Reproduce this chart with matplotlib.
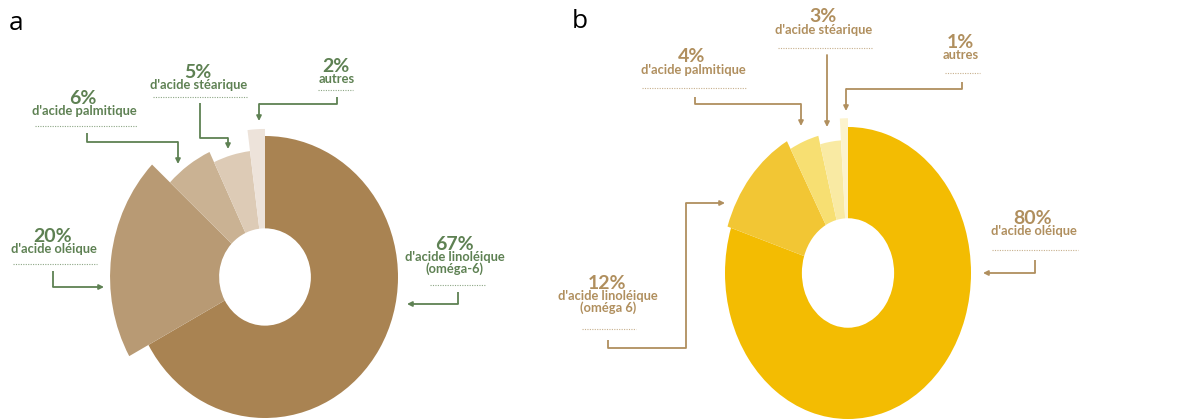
import numpy as np
import matplotlib
matplotlib.use("Agg")
import matplotlib.pyplot as plt

##########  DATA  ##########
names_a = ["d'acide linoléique\n(oméga-6)", "d'acide oléique", "d'acide palmitique",
           "d'acide stéarique", "autres"]
values_a = [67, 20, 6, 5, 2]

names_b = ["d'acide oléique", "d'acide linoléique\n(oméga 6)", "d'acide palmitique",
           "d'acide stéarique", "autres"]
values_b = [80, 12, 4, 3, 1]

##########  STYLE  ##########
W, H = 1181, 419
colors_a = ["#a98352", "#b89a74", "#cab293", "#ddcbb6", "#ede3da"]
colors_b = ["#f3bc02", "#f2c634", "#f7df72", "#f9eaa3", "#fcf3cd"]
radii_a = [1.0, 1.165, 0.98, 0.90, 1.05]
radii_b = [1.0, 1.03, 0.97, 0.91, 1.06]
txt_a = "#5e8153"
txt_b = "#b08f5e"
FONT = "Lato"

fig = plt.figure(figsize=(W / 100, H / 100), dpi=100)
fig.patch.set_facecolor("white")

# full-figure axes in pixel coordinates for labels and connectors
ax0 = fig.add_axes([0, 0, 1, 1])
ax0.set_xlim(0, W)
ax0.set_ylim(H, 0)
ax0.axis("off")


def donut(cx, cy, rx, ry, values, colors, radii, hole):
    ax = fig.add_axes([(cx - rx) / W, (H - cy - ry) / H, 2 * rx / W, 2 * ry / H])
    wedges, _ = ax.pie(values, colors=colors, startangle=90, counterclock=False,
                       wedgeprops=dict(linewidth=0))
    for w, r in zip(wedges, radii):
        w.set_radius(r)
        w.set_width(r - hole)
        w.set_clip_on(False)
    ax.set_aspect("auto")
    ax.set_xlim(-1, 1)
    ax.set_ylim(-1, 1)
    ax.axis("off")
    return ax


donut(265, 277, 133, 141, values_a, colors_a, radii_a, 0.345)
donut(848, 273, 123, 146, values_b, colors_b, radii_b, 0.375)


def label(x, y, pct, name, col, dot):
    ax0.text(x, y, f"{pct}%", ha="center", va="center", fontsize=14,
             fontweight="bold", color=col, family=FONT)
    ax0.text(x + 1, y + 7, name, ha="center", va="top", fontsize=9.3,
             fontweight="bold", color=col, family=FONT, linespacing=0.95)
    ax0.plot(dot[:2], [dot[2], dot[2]], color=col, lw=0.8, alpha=0.7,
             linestyle=(0, (1, 1.2)))


def connector(xs, ys, col):
    ax0.plot(xs[:-1], ys[:-1], color=col, lw=1.3, solid_capstyle="butt")
    ax0.annotate("", xy=(xs[-1], ys[-1]), xytext=(xs[-2], ys[-2]),
                 arrowprops=dict(arrowstyle="-|>", color=col, lw=1.3,
                                 mutation_scale=7, shrinkA=0, shrinkB=0))


# panel a labels
label(83, 98, values_a[2], names_a[2], txt_a, (35, 137, 126))
label(198, 72, values_a[3], names_a[3], txt_a, (153, 248, 97))
label(336, 66, values_a[4], names_a[4], txt_a, (318, 353, 90))
label(53, 236, values_a[1], names_a[1], txt_a, (13, 97, 264))
label(454, 244, values_a[0], names_a[0], txt_a, (430, 485, 285))

connector([87, 87, 178, 178], [133, 142, 142, 164], txt_a)
connector([200, 200, 228, 228], [103, 138, 138, 149], txt_a)
connector([337, 337, 259, 259], [97, 104, 104, 121], txt_a)
connector([53, 53, 104], [271, 287, 287], txt_a)
connector([458, 458, 407], [292, 304, 304], txt_a)

# panel b labels
label(823, 17, values_b[3], names_b[3], txt_b, (778, 873, 48))
label(692, 57, values_b[2], names_b[2], txt_b, (642, 746, 88))
label(960, 42, values_b[4], names_b[4], txt_b, (945, 980, 73))
label(607, 283, values_b[1], names_b[1], txt_b, (582, 636, 329))
label(1033, 218, values_b[0], names_b[0], txt_b, (992, 1078, 250))

connector([827, 827], [55, 127], txt_b)
connector([695, 695, 801, 801], [97, 104, 104, 126], txt_b)
connector([962, 962, 846, 846], [82, 89, 89, 111], txt_b)
connector([608, 608, 686, 686, 725], [340, 348, 348, 203, 203], txt_b)
connector([1035, 1035, 983], [260, 273, 273], txt_b)

# panel letters
ax0.text(16, 24, "a", ha="center", va="center", fontsize=19, family="Open Sans")
ax0.text(580, 21, "b", ha="center", va="center", fontsize=19, family="Open Sans")

fig.savefig("out.png", dpi=100, facecolor="white")
